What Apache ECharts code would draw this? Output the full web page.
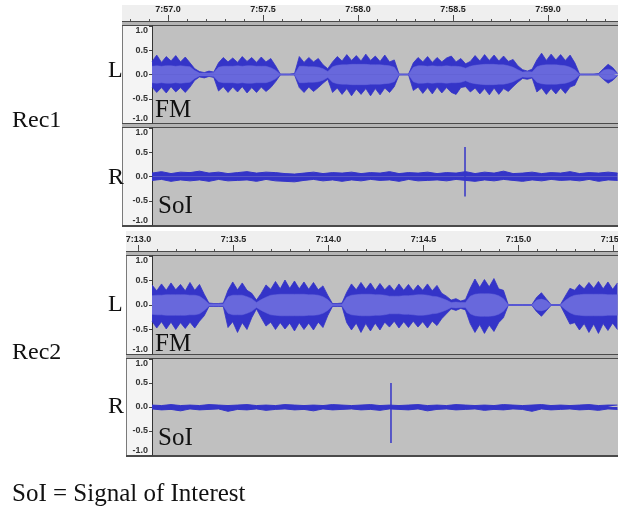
<!DOCTYPE html>
<html><head><meta charset="utf-8">
<script src="https://cdn.jsdelivr.net/npm/echarts@6/dist/echarts.min.js"></script>
<style>html,body{margin:0;padding:0;background:#fff}#c{width:618px;height:512px}</style>
</head><body><div id="c"></div>
<script>
// ================= DATA (seconds after 7:00, amplitude -1..1) =================
const rec1Window = [56.916, 59.368];      // visible time span of Rec1 waveform
const rec2Window = [13.071, 15.524];      // visible time span of Rec2 waveform
const rec1RulerRange = [56.768, 59.368];
const rec2RulerRange = [12.924, 15.524];
const rec1TimeTicks = [57.0, 57.5, 58.0, 58.5, 59.0];
const rec2TimeTicks = [13.0, 13.5, 14.0, 14.5, 15.0, 15.5];
const ampTicks = [-1.0, -0.5, 0.0, 0.5, 1.0];
const envStep = 0.025;   // envelope column spacing (s) for L (FM) tracks
const noiseStep = 0.05;  // envelope column spacing (s) for R (SoI) tracks

const rec1LPeakTop = [
 0.27,0.40,0.25,0.37,0.28,0.39,0.26,0.36,0.24,0.12,
 0.06,0.04,0.07,0.05,
 0.24,0.35,0.26,0.34,0.25,0.37,0.27,0.35,0.25,0.36,0.26,0.33,0.18,
 0.01,0.01,0.01,0.02,
 0.37,0.25,0.35,0.26,0.33,0.20,
 0.12,
 0.26,0.37,0.28,0.41,0.29,0.39,0.28,0.42,0.29,0.38,0.27,0.40,0.26,0.30,
 0.01,0.01,0.01,
 0.24,0.35,0.26,0.37,0.25,0.35,0.26,0.34,0.38,0.26,0.33,0.22,
 0.27,0.39,0.28,0.41,0.29,0.40,0.28,0.38,0.27,0.31,0.18,
 0.10,0.07,0.11,
 0.30,0.44,0.29,0.42,0.30,0.41,0.29,0.40,0.24,
 0.01,0.01,0.01,0.01,0.02,
 0.12,0.21,0.14,
 0.02];
const rec1LPeakBot = [
 -0.26,-0.37,-0.27,-0.38,-0.25,-0.36,-0.27,-0.37,-0.26,-0.12,
 -0.05,-0.07,-0.04,-0.06,
 -0.34,-0.25,-0.37,-0.26,-0.36,-0.25,-0.38,-0.27,-0.37,-0.26,-0.35,-0.27,-0.15,
 -0.01,-0.01,-0.01,-0.01,
 -0.27,-0.37,-0.26,-0.35,-0.27,-0.18,
 -0.10,
 -0.37,-0.28,-0.41,-0.29,-0.44,-0.30,-0.41,-0.29,-0.44,-0.29,-0.42,-0.28,-0.37,-0.25,
 -0.01,-0.01,-0.01,
 -0.33,-0.26,-0.39,-0.27,-0.40,-0.26,-0.38,-0.27,-0.37,-0.41,-0.27,-0.25,
 -0.36,-0.28,-0.40,-0.29,-0.42,-0.28,-0.41,-0.29,-0.35,-0.25,-0.16,
 -0.08,-0.10,-0.07,
 -0.36,-0.28,-0.41,-0.29,-0.40,-0.28,-0.39,-0.26,-0.22,
 -0.01,-0.01,-0.01,-0.01,-0.01,
 -0.10,-0.18,-0.12,
 -0.02];
const rec1LRms = [
 0.17,0.18,0.17,0.18,0.18,0.17,0.18,0.17,0.16,0.08,
 0.03,0.03,0.03,0.04,
 0.15,0.17,0.17,0.17,0.18,0.17,0.18,0.18,0.17,0.17,0.17,0.14,0.09,
 0.005,0.005,0.005,0.005,
 0.17,0.17,0.16,0.16,0.15,0.12,
 0.06,
 0.16,0.19,0.20,0.20,0.21,0.21,0.21,0.21,0.20,0.20,0.20,0.19,0.18,0.15,
 0.005,0.005,0.005,
 0.15,0.18,0.18,0.17,0.18,0.17,0.17,0.18,0.17,0.17,0.16,0.13,
 0.17,0.19,0.20,0.21,0.21,0.21,0.20,0.20,0.18,0.15,0.10,
 0.05,0.06,0.05,
 0.16,0.19,0.20,0.20,0.20,0.19,0.18,0.15,0.10,
 0.005,0.005,0.005,0.005,0.005,
 0.09,0.11,0.09,
 0.01];

const rec2LPeakTop = [
 0.41,0.29,0.43,0.30,0.45,0.31,0.42,0.29,0.46,0.30,0.42,0.22,
 0.04,0.03,0.03,0.04,
 0.30,0.47,0.31,0.45,0.30,0.24,
 0.10,
 0.24,0.41,0.32,0.48,0.33,0.51,0.34,0.49,0.33,0.47,0.32,0.46,0.31,0.39,0.20,
 0.03,0.03,0.04,
 0.26,0.43,0.31,0.46,0.32,0.45,0.30,0.44,0.31,0.41,0.29,0.43,0.30,0.42,0.29,0.41,0.30,0.43,0.29,0.40,0.24,0.18,
 0.10,0.13,0.08,0.11,
 0.34,0.53,0.36,0.52,0.37,0.54,0.33,0.30,
 0.01,0.01,0.01,0.01,0.01,0.01,
 0.16,0.25,0.13,
 0.01,0.01,0.01,
 0.18,0.34,0.30,0.42,0.33,0.46,0.34,0.48,0.33,0.47,0.32,0.45];
const rec2LPeakBot = [
 -0.33,-0.47,-0.34,-0.49,-0.35,-0.50,-0.36,-0.48,-0.35,-0.47,-0.33,-0.22,
 -0.03,-0.03,-0.03,-0.03,
 -0.46,-0.34,-0.56,-0.36,-0.50,-0.26,
 -0.08,
 -0.26,-0.43,-0.35,-0.50,-0.36,-0.49,-0.37,-0.53,-0.36,-0.50,-0.37,-0.51,-0.35,-0.46,-0.22,
 -0.03,-0.03,-0.03,
 -0.36,-0.51,-0.37,-0.56,-0.38,-0.53,-0.37,-0.51,-0.35,-0.45,-0.33,-0.47,-0.34,-0.46,-0.33,-0.45,-0.34,-0.47,-0.33,-0.42,-0.28,-0.18,
 -0.08,-0.11,-0.07,-0.10,
 -0.38,-0.56,-0.40,-0.58,-0.41,-0.54,-0.36,-0.26,
 -0.01,-0.01,-0.01,-0.01,-0.01,-0.01,
 -0.14,-0.23,-0.12,
 -0.01,-0.01,-0.01,
 -0.20,-0.39,-0.36,-0.51,-0.38,-0.56,-0.39,-0.58,-0.38,-0.52,-0.37,-0.50];
const rec2LRms = [
 0.19,0.20,0.20,0.21,0.21,0.21,0.21,0.21,0.20,0.20,0.18,0.11,
 0.02,0.02,0.02,0.02,
 0.17,0.20,0.20,0.20,0.17,0.13,
 0.05,
 0.11,0.16,0.20,0.21,0.22,0.22,0.22,0.22,0.22,0.22,0.21,0.21,0.20,0.17,0.11,
 0.015,0.015,0.015,
 0.16,0.20,0.21,0.22,0.22,0.22,0.21,0.21,0.20,0.18,0.18,0.18,0.19,0.19,0.20,0.21,0.21,0.20,0.18,0.17,0.14,0.10,
 0.05,0.06,0.05,0.05,
 0.18,0.22,0.23,0.23,0.23,0.22,0.19,0.13,
 0.005,0.005,0.005,0.005,0.005,0.005,
 0.10,0.12,0.09,
 0.005,0.005,0.005,
 0.09,0.16,0.20,0.21,0.22,0.22,0.22,0.22,0.22,0.21,0.21,0.21];

const rec1RNoiseTop = [
 0.07,0.10,0.06,0.09,0.08,0.11,0.07,0.09,0.06,0.08,
 0.10,0.07,0.09,0.08,0.06,0.05,0.07,0.09,0.06,0.08,
 0.07,0.09,0.06,0.08,0.07,0.10,0.06,0.08,0.07,0.09,
 0.06,0.08,0.07,0.10,0.06,0.09,0.07,0.11,0.06,0.07,
 0.09,0.06,0.08,0.07,0.10,0.06,0.08,0.07,0.09,0.07];
const rec1RNoiseBot = [
 -0.08,-0.06,-0.10,-0.07,-0.09,-0.07,-0.10,-0.06,-0.09,-0.08,
 -0.07,-0.10,-0.06,-0.09,-0.10,-0.11,-0.08,-0.06,-0.09,-0.07,
 -0.10,-0.07,-0.09,-0.06,-0.08,-0.07,-0.10,-0.06,-0.09,-0.08,
 -0.07,-0.09,-0.06,-0.08,-0.10,-0.07,-0.09,-0.06,-0.08,-0.10,
 -0.07,-0.09,-0.06,-0.08,-0.07,-0.09,-0.06,-0.10,-0.07,-0.08];
const rec1RSpike = {t: 58.563, top: 0.61, bottom: -0.41};

const rec2RNoiseTop = [
 0.04,0.03,0.05,0.03,0.04,0.03,0.05,0.04,0.03,0.04,
 0.05,0.03,0.04,0.03,0.05,0.04,0.03,0.04,0.03,0.05,
 0.04,0.03,0.04,0.05,0.03,0.04,0.03,0.04,0.05,0.03,
 0.04,0.03,0.05,0.04,0.03,0.04,0.03,0.05,0.04,0.03,
 0.04,0.05,0.03,0.04,0.03,0.04,0.05,0.03,0.04,0.04];
const rec2RNoiseBot = [
 -0.04,-0.06,-0.05,-0.08,-0.04,-0.06,-0.05,-0.04,-0.09,-0.05,
 -0.06,-0.04,-0.07,-0.05,-0.04,-0.06,-0.05,-0.08,-0.04,-0.06,
 -0.05,-0.04,-0.06,-0.05,-0.07,-0.04,-0.05,-0.06,-0.04,-0.08,
 -0.05,-0.04,-0.06,-0.05,-0.04,-0.07,-0.05,-0.06,-0.04,-0.05,
 -0.09,-0.04,-0.06,-0.05,-0.04,-0.06,-0.05,-0.07,-0.04,-0.05];
const rec2RSpike = {t: 14.329, top: 0.50, bottom: -0.75};

// ================= RENDERING =================
const PEAK = '#3434c8', RMS = '#6868dc';
const chart = echarts.init(document.getElementById('c'), null, {renderer: 'canvas'});

function fmtTime(v) { return '7:' + (v < 10 ? '0' : '') + v.toFixed(1); }
function minorTicks(range) {
  const out = [];
  for (let k = Math.ceil(range[0] * 10); k <= Math.floor(range[1] * 10); k++) out.push(k / 10);
  return out;
}
function series(idx, t0, step, vals, color, sign, z, w) {
  return {
    type: 'line', xAxisIndex: idx, yAxisIndex: idx, z: z,
    data: vals.map((v, i) => [t0 + i * step, sign * v]),
    symbol: 'none', silent: true, animation: false,
    lineStyle: {color: color, width: w},
    areaStyle: {color: color, opacity: 1, origin: 'auto'}
  };
}
function spike(idx, s) {
  return {type: 'line', xAxisIndex: idx, yAxisIndex: idx, z: 5, symbol: 'none', silent: true,
    data: [[s.t, s.top], [s.t, s.bottom]], lineStyle: {color: PEAK, width: 1.5}};
}

const windows = [rec1Window, rec1Window, rec2Window, rec2Window];
const trackGrids = [
  {left: 152, top: 26, width: 466, height: 97},
  {left: 152, top: 128, width: 466, height: 97},
  {left: 152, top: 256, width: 466, height: 98},
  {left: 152, top: 359, width: 466, height: 96}
];
const grids = trackGrids.concat([
  {left: 124, top: 5, width: 494, height: 16},
  {left: 124, top: 235, width: 494, height: 16}
]).map(g => Object.assign({outerBoundsMode: 'none', containLabel: false}, g));

const xAxes = [], yAxes = [];
windows.forEach((w, i) => {
  xAxes.push({gridIndex: i, type: 'value', min: w[0], max: w[1], show: false});
  yAxes.push({gridIndex: i, type: 'value', min: ampTicks[0], max: ampTicks[ampTicks.length - 1], interval: 0.5,
    axisLine: {show: true, lineStyle: {color: '#333', width: 1}},
    axisTick: {show: true, length: 3, lineStyle: {color: '#444'}},
    splitLine: {show: false},
    axisLabel: {fontSize: 9, fontWeight: 'bold', fontFamily: 'Liberation Sans', color: '#333', margin: 4,
      formatter: v => v.toFixed(1), verticalAlignMaxLabel: 'top', verticalAlignMinLabel: 'bottom'}});
});
[[rec1RulerRange, rec1TimeTicks, 4], [rec2RulerRange, rec2TimeTicks, 5]].forEach(([r, ticks, g]) => {
  xAxes.push({gridIndex: g, type: 'value', min: r[0], max: r[1], position: 'bottom',
    axisLine: {show: false}, splitLine: {show: false},
    axisTick: {show: true, inside: true, length: 6, customValues: ticks, lineStyle: {color: '#444'}},
    axisLabel: {inside: true, margin: 7, customValues: ticks, formatter: fmtTime, fontSize: 9,
      fontWeight: 'bold', fontFamily: 'Liberation Sans', color: '#222'}});
  yAxes.push({gridIndex: g, type: 'value', min: 0, max: 1, show: false});
});
[[rec1RulerRange, 4], [rec2RulerRange, 5]].forEach(([r, g]) => {
  xAxes.push({gridIndex: g, type: 'value', min: r[0], max: r[1], position: 'bottom',
    axisLine: {show: false}, splitLine: {show: false}, axisLabel: {show: false},
    axisTick: {show: true, inside: true, length: 2, customValues: minorTicks(r), lineStyle: {color: '#555'}}});
});

const allSeries = [
  series(0, rec1Window[0], envStep, rec1LPeakTop, PEAK, 1, 2, 0.8),
  series(0, rec1Window[0], envStep, rec1LPeakBot, PEAK, 1, 2, 0.8),
  series(0, rec1Window[0], envStep, rec1LRms, RMS, 1, 3, 0.5),
  series(0, rec1Window[0], envStep, rec1LRms, RMS, -1, 3, 0.5),
  series(1, rec1Window[0], noiseStep, rec1RNoiseTop, PEAK, 1, 2, 1),
  series(1, rec1Window[0], noiseStep, rec1RNoiseBot, PEAK, 1, 2, 1),
  spike(1, rec1RSpike),
  series(2, rec2Window[0], envStep, rec2LPeakTop, PEAK, 1, 2, 0.8),
  series(2, rec2Window[0], envStep, rec2LPeakBot, PEAK, 1, 2, 0.8),
  series(2, rec2Window[0], envStep, rec2LRms, RMS, 1, 3, 0.5),
  series(2, rec2Window[0], envStep, rec2LRms, RMS, -1, 3, 0.5),
  series(3, rec2Window[0], noiseStep, rec2RNoiseTop, PEAK, 1, 2, 1),
  series(3, rec2Window[0], noiseStep, rec2RNoiseBot, PEAK, 1, 2, 1),
  spike(3, rec2RSpike)
];

// ---------- chrome (track panels, rulers) ----------
function rect(x, y, w, h, fill) { return {type: 'rect', z: -10, silent: true, shape: {x, y, width: w, height: h}, style: {fill}}; }
const DARK = '#4a4a4a', MID = '#b4b4b4', WAVEBG = '#c0c0c0', VRULER = '#f4f4f4', RULERBG = '#efefef';
function panel(x0, rulerTop, rulerBottom, tracks, bottom) {
  const w = 618 - x0, els = [];
  els.push(rect(x0, rulerTop, w, rulerBottom - rulerTop, RULERBG));
  els.push(rect(x0, rulerBottom, w, 1, DARK), rect(x0, rulerBottom + 1, w, 3, MID), rect(x0, rulerBottom + 4, w, 1, DARK));
  tracks.forEach(([t, h], k) => {
    els.push(rect(x0 + 1, t, 152 - x0 - 1, h, VRULER), rect(x0, t, 1, h, '#7a7a7a'), rect(152, t, 466, h, WAVEBG));
    if (k === 0) els.push(rect(x0, t + h, w, 1, DARK), rect(x0, t + h + 1, w, 3, MID), rect(x0, t + h + 4, w, 1, DARK));
  });
  els.push(rect(x0, bottom, w, 2, DARK));
  return els;
}
const chrome = [].concat(
  panel(122, 5, 21, [[26, 97], [128, 97]], 225),
  panel(126, 231, 251, [[256, 98], [359, 96]], 455)
);
function txt(s, x, y, size) {
  return {type: 'text', z: 50, silent: true, style: {text: s, x, y, font: size + 'px "Liberation Serif", serif',
    fill: '#111', align: 'left', verticalAlign: 'middle', textAlign: 'left', textVerticalAlign: 'middle'}};
}
const labels = [
  txt('Rec1', 12, 121, 24), txt('Rec2', 12, 353, 24),
  txt('L', 108, 71, 24), txt('R', 108, 178, 24), txt('L', 108, 305, 24), txt('R', 108, 407, 24),
  txt('FM', 155, 110, 25), txt('SoI', 158, 206, 25), txt('FM', 155, 344, 25), txt('SoI', 158, 438, 25),
  txt('SoI = Signal of Interest', 12, 494, 25)
];

chart.setOption({
  animation: false, backgroundColor: '#ffffff',
  grid: grids, xAxis: xAxes, yAxis: yAxes, series: allSeries,
  graphic: {elements: chrome.concat(labels)}
});
</script></body></html>
